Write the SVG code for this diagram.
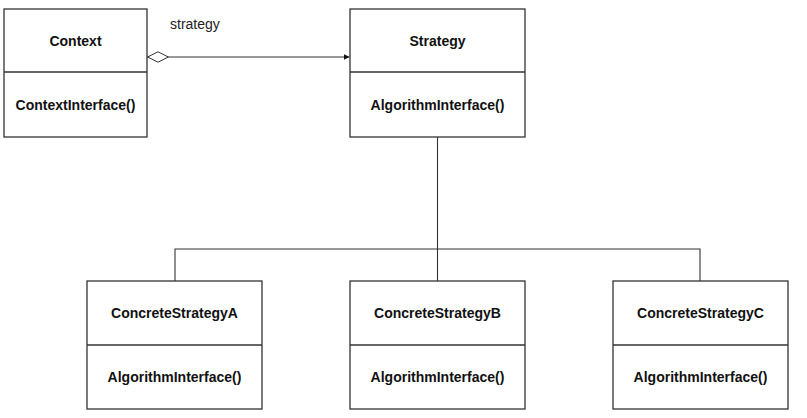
<svg xmlns="http://www.w3.org/2000/svg" width="807" height="418" viewBox="0 0 807 418">
  <defs>
    <style>
      .box { fill: #ffffff; stroke: #333333; stroke-width: 1.3; }
      .div { stroke: #333333; stroke-width: 1.3; }
      .lbl { font-family: "Liberation Sans", Arial, Helvetica, sans-serif; font-size: 14px; font-weight: bold; fill: #111111; text-anchor: middle; }
      .note { font-family: "Liberation Sans", Arial, Helvetica, sans-serif; font-size: 14px; fill: #222222; }
      .edge { fill: none; stroke: #333333; stroke-width: 1.1; }
    </style>
    <marker id="arrow" viewBox="0 0 10 10" refX="10" refY="5" markerWidth="6" markerHeight="6" orient="auto" markerUnits="userSpaceOnUse">
      <path d="M0,0 L10,5 L0,10 z" fill="#111111"/>
    </marker>
    <marker id="diamond" viewBox="0 0 22 12" refX="0" refY="6" markerWidth="22" markerHeight="12" orient="auto" markerUnits="userSpaceOnUse">
      <path d="M0.7,6 L11,0.8 L21.3,6 L11,11.2 z" fill="#ffffff" stroke="#333333" stroke-width="1"/>
    </marker>
  </defs>
  <rect width="807" height="418" fill="#ffffff"/>

  <g id="connectors">
    <path class="edge" d="M147,57 H349.5" marker-start="url(#diamond)" marker-end="url(#arrow)"/>
    <text class="note" x="170" y="29">strategy</text>
    <path class="edge" d="M437.5,137 V281"/>
    <path class="edge" d="M175,281 V249 H700 V281"/>
  </g>

  <g id="context">
    <rect class="box" x="4" y="9" width="143" height="128"/>
    <line class="div" x1="4" y1="72" x2="147" y2="72"/>
    <text class="lbl" x="75.5" y="46">Context</text>
    <text class="lbl" x="75.5" y="110">ContextInterface()</text>
  </g>

  <g id="strategy">
    <rect class="box" x="350" y="9" width="175" height="128"/>
    <line class="div" x1="350" y1="72" x2="525" y2="72"/>
    <text class="lbl" x="437.5" y="46">Strategy</text>
    <text class="lbl" x="437.5" y="110">AlgorithmInterface()</text>
  </g>

  <g id="concrete-a">
    <rect class="box" x="87" y="281" width="175" height="128"/>
    <line class="div" x1="87" y1="345" x2="262" y2="345"/>
    <text class="lbl" x="174.5" y="318">ConcreteStrategyA</text>
    <text class="lbl" x="174.5" y="382">AlgorithmInterface()</text>
  </g>

  <g id="concrete-b">
    <rect class="box" x="350" y="281" width="175" height="128"/>
    <line class="div" x1="350" y1="345" x2="525" y2="345"/>
    <text class="lbl" x="437.5" y="318">ConcreteStrategyB</text>
    <text class="lbl" x="437.5" y="382">AlgorithmInterface()</text>
  </g>

  <g id="concrete-c">
    <rect class="box" x="613" y="281" width="175" height="128"/>
    <line class="div" x1="613" y1="345" x2="788" y2="345"/>
    <text class="lbl" x="700.5" y="318">ConcreteStrategyC</text>
    <text class="lbl" x="700.5" y="382">AlgorithmInterface()</text>
  </g>
</svg>
